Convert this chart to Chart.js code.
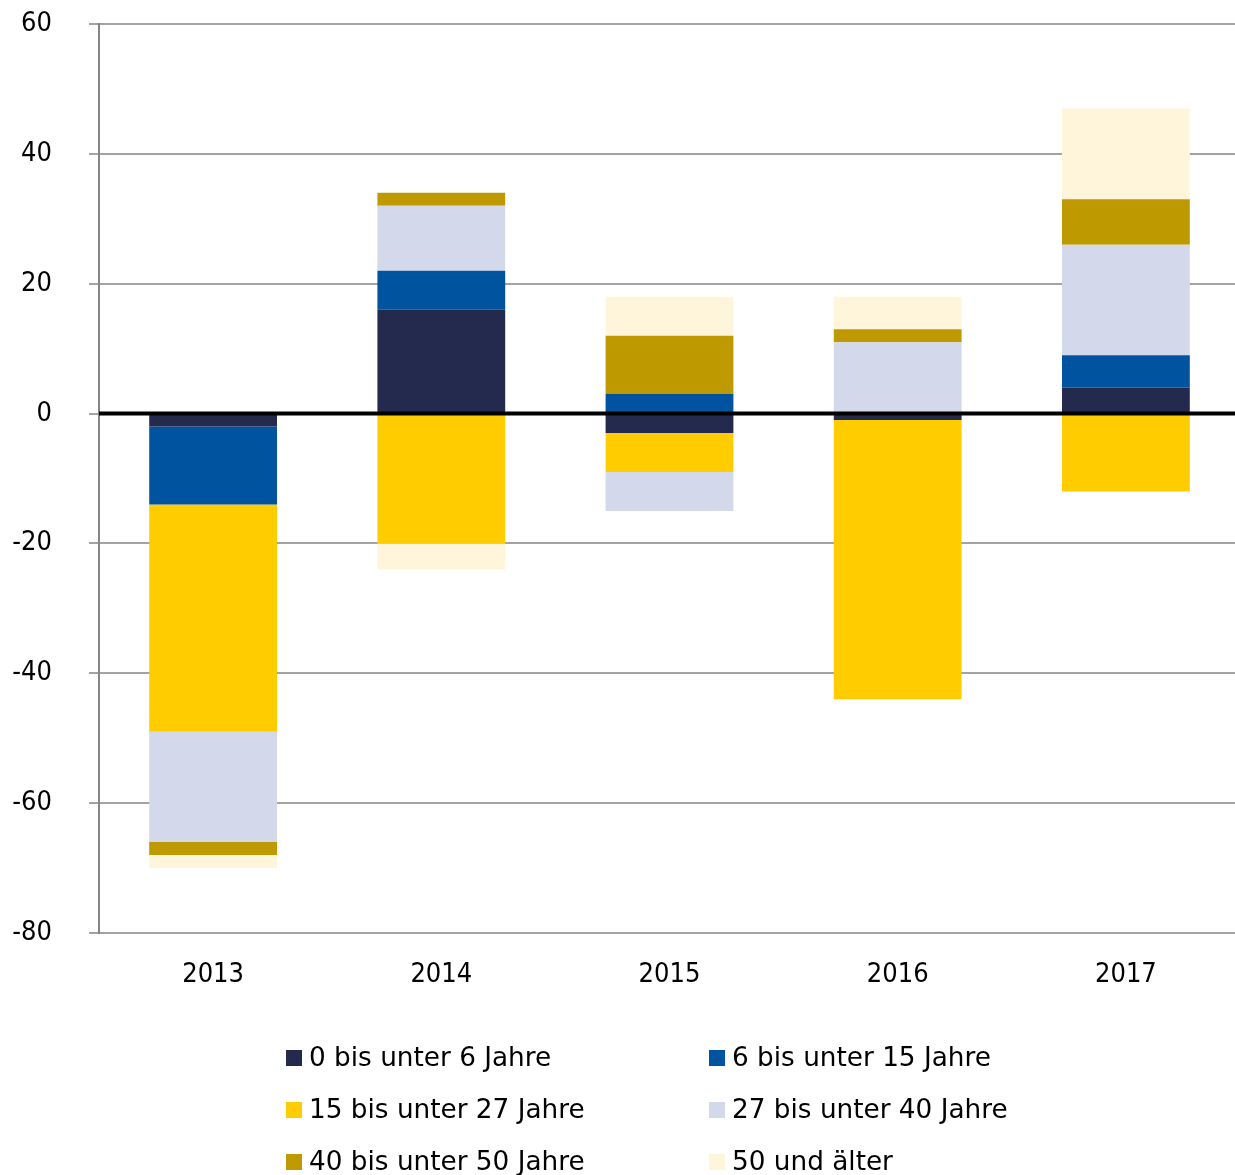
<!DOCTYPE html>
<html>
<head>
<meta charset="utf-8">
<script src="https://cdn.jsdelivr.net/npm/chart.js@4.4.1/dist/chart.umd.min.js"></script>
<style>
  html, body { margin: 0; padding: 0; background: #fff; overflow: hidden; }
  #clip { width: 1235px; height: 1175px; overflow: hidden; }
  #wrap { width: 1240px; height: 1175px; position: relative; }
</style>
</head>
<body>
<div id="clip"><div id="wrap"><canvas id="chart"></canvas></div></div>
<script>
// Daten
const years = ['2013', '2014', '2015', '2016', '2017'];
const age0to6 = [-2, 16, -3, -1, 4];
const age6to15 = [-12, 6, 3, 0, 5];
const age15to27 = [-35, -20, -6, -43, -12];
const age27to40 = [-17, 10, -6, 11, 17];
const age40to50 = [-2, 2, 9, 2, 7];
const age50plus = [-2, -4, 6, 5, 14];

const FONT = "'DejaVu Sans Condensed', 'DejaVu Sans', Verdana, sans-serif";
const LEGEND_FONT = "'DejaVu Sans', Verdana, sans-serif";
const GRID = '#a3a3a3';

function ds(label, data, color) {
    return {
        label: label,
        data: data,
        backgroundColor: color,
        borderWidth: 0,
        barPercentage: 0.56,
        categoryPercentage: 1.0
    };
}

// Nulllinie über den Balken
const zeroLine = {
    id: 'zeroLine',
    afterDatasetsDraw(chart) {
        const y = chart.scales.y.getPixelForValue(0);
        const ctx = chart.ctx;
        ctx.save();
        ctx.strokeStyle = '#000';
        ctx.lineWidth = 4;
        ctx.beginPath();
        ctx.moveTo(chart.chartArea.left, y);
        ctx.lineTo(chart.chartArea.right, y);
        ctx.stroke();
        ctx.restore();
    }
};

// Legende in zwei Spalten
const legendCols = [286, 709];
const legendRows = [1058, 1110, 1162];
const twoColLegend = {
    id: 'twoColLegend',
    afterDraw(chart) {
        const ctx = chart.ctx;
        ctx.save();
        ctx.font = '26.3px ' + LEGEND_FONT;
        ctx.textBaseline = 'middle';
        ctx.textAlign = 'left';
        chart.data.datasets.forEach((d, i) => {
            const x = legendCols[i % 2];
            const y = legendRows[Math.floor(i / 2)];
            ctx.fillStyle = d.backgroundColor;
            ctx.fillRect(x, y - 8, 16, 16);
            ctx.fillStyle = '#000';
            ctx.fillText(d.label, x + 23, y + 1);
        });
        ctx.restore();
    }
};

new Chart(document.getElementById('chart'), {
    type: 'bar',
    data: {
        labels: years,
        datasets: [
            ds('0 bis unter 6 Jahre', age0to6, '#232a4e'),
            ds('6 bis unter 15 Jahre', age6to15, '#00539f'),
            ds('15 bis unter 27 Jahre', age15to27, '#ffcc00'),
            ds('27 bis unter 40 Jahre', age27to40, '#d3d8eb'),
            ds('40 bis unter 50 Jahre', age40to50, '#bf9900'),
            ds('50 und älter', age50plus, '#fff5da')
        ]
    },
    options: {
        responsive: true,
        maintainAspectRatio: false,
        animation: false,
        layout: { padding: { top: 24, right: 0, bottom: 0, left: 0 } },
        plugins: {
            legend: { display: false },
            tooltip: { enabled: false }
        },
        scales: {
            x: {
                stacked: true,
                grid: { display: false, drawTicks: false },
                border: { display: true, color: GRID, width: 2 },
                ticks: { color: '#000', font: { family: FONT, size: 27 }, padding: 26 },
                afterFit: (scale) => { scale.height = 242; }
            },
            y: {
                stacked: true,
                min: -80,
                max: 60,
                ticks: { stepSize: 20, color: '#000', font: { family: FONT, size: 27 }, padding: 37 },
                grid: { color: GRID, lineWidth: 2, tickLength: 10, tickColor: GRID },
                border: { display: true, color: '#858585', width: 2 },
                afterFit: (scale) => {
                    scale.width = 99;
                    scale.paddingTop = 0;
                    scale.paddingBottom = 0;
                }
            }
        }
    },
    plugins: [zeroLine, twoColLegend]
});
</script>
</body>
</html>
